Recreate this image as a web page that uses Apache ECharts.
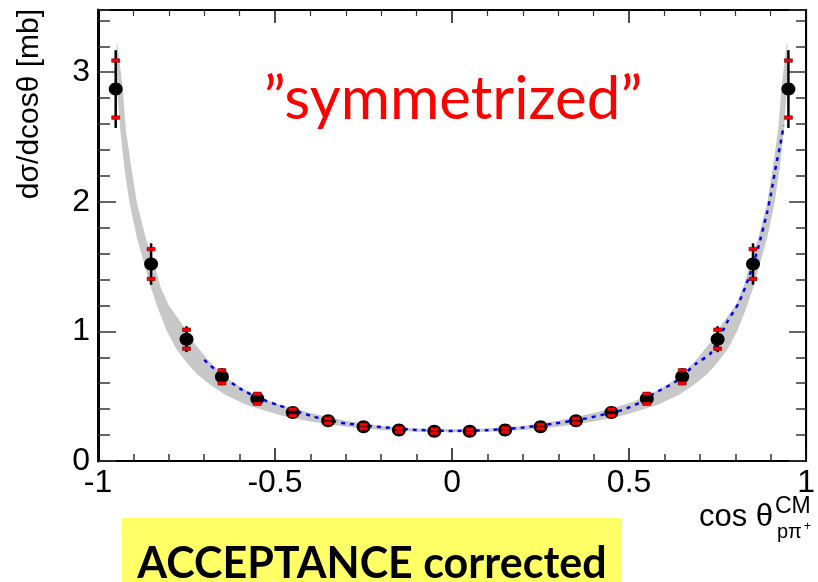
<!DOCTYPE html>
<html>
<head>
<meta charset="utf-8">
<script src="https://cdn.jsdelivr.net/npm/echarts@6/dist/echarts.min.js"></script>
<style>
html,body{margin:0;padding:0;background:#fff;}
#chart{width:818px;height:582px;}
</style>
</head>
<body>
<div id="chart"></div>
<script>
// ---- data ----
const xPoints = [-0.95, -0.85, -0.75, -0.65, -0.55, -0.45, -0.35, -0.25, -0.15, -0.05,
                  0.05,  0.15,  0.25,  0.35,  0.45,  0.55,  0.65,  0.75,  0.85,  0.95];
const yPoints = [2.87, 1.52, 0.94, 0.65, 0.48, 0.375, 0.31, 0.265, 0.24, 0.23,
                 0.23, 0.24, 0.265, 0.31, 0.375, 0.48, 0.65, 0.94, 1.52, 2.87];
const statErr = [0.30, 0.16, 0.10, 0.066, 0.045, 0.03, 0.025, 0.02, 0.02, 0.02,
                 0.02, 0.02, 0.02, 0.025, 0.03, 0.045, 0.066, 0.10, 0.16, 0.30];
const sysErr  = [0.22, 0.115, 0.073, 0.05, 0.038, 0.025, 0.018, 0.015, 0.015, 0.015,
                 0.015, 0.015, 0.015, 0.018, 0.025, 0.038, 0.05, 0.073, 0.115, 0.22];

// model band (grey), upper edge from left to right
const bandUpperX = [-0.945, -0.93, -0.921, -0.905, -0.89, -0.865, -0.841, -0.823, -0.80, -0.763, -0.74,
                    -0.689, -0.647, -0.60, -0.55, -0.50, -0.441, -0.40, -0.30, -0.20, -0.10, 0,
                     0.10, 0.20, 0.30, 0.40, 0.441, 0.50, 0.55, 0.60, 0.647, 0.689,
                     0.74, 0.763, 0.80, 0.823, 0.841, 0.865, 0.89, 0.905, 0.921, 0.93, 0.945];
const bandUpperY = [3.22, 2.87, 2.55, 2.25, 1.99, 1.72, 1.52, 1.34, 1.20, 1.06, 0.95,
                    0.78, 0.66, 0.575, 0.50, 0.445, 0.40, 0.37, 0.31, 0.27, 0.25, 0.245,
                    0.25, 0.27, 0.31, 0.37, 0.40, 0.445, 0.50, 0.575, 0.66, 0.78,
                    0.95, 1.06, 1.20, 1.34, 1.52, 1.72, 1.99, 2.25, 2.55, 2.87, 3.22];
// lower edge from left to right
const bandLowerX = [-0.947, -0.946, -0.937, -0.925, -0.911, -0.89, -0.869, -0.851, -0.83, -0.805, -0.78,
                    -0.75, -0.72, -0.684, -0.64, -0.581, -0.53, -0.48, -0.40, -0.30, -0.20, -0.10, 0,
                     0.10, 0.20, 0.30, 0.40, 0.48, 0.53, 0.581, 0.64, 0.684, 0.72, 0.75,
                     0.78, 0.805, 0.83, 0.851, 0.869, 0.89, 0.911, 0.925, 0.937, 0.946, 0.947];
const bandLowerY = [3.22, 2.87, 2.55, 2.25, 1.99, 1.72, 1.52, 1.34, 1.17, 1.00, 0.87,
                    0.76, 0.67, 0.59, 0.51, 0.435, 0.39, 0.35, 0.305, 0.264, 0.239, 0.225, 0.221,
                    0.225, 0.239, 0.264, 0.305, 0.35, 0.39, 0.435, 0.51, 0.59, 0.67, 0.76,
                    0.87, 1.00, 1.17, 1.34, 1.52, 1.72, 1.99, 2.25, 2.55, 2.87, 3.22];

// blue dotted curve
const blueX = [-0.70, -0.65, -0.60, -0.55, -0.49, -0.44, -0.39, -0.35, -0.30, -0.20, -0.10, 0,
                0.10, 0.20, 0.29, 0.34, 0.38, 0.43, 0.48, 0.53, 0.57, 0.63, 0.69, 0.73, 0.78,
                0.81, 0.84, 0.865, 0.89, 0.90, 0.906, 0.915, 0.927, 0.937];
const blueY = [0.78, 0.66, 0.56, 0.49, 0.43, 0.385, 0.342, 0.315, 0.29, 0.262, 0.24, 0.232,
               0.238, 0.258, 0.29, 0.31, 0.329, 0.36, 0.393, 0.45, 0.52, 0.61, 0.753, 0.83, 1.087,
               1.22, 1.43, 1.65, 1.92, 2.05, 2.14, 2.28, 2.44, 2.59];

const xMin = -1, xMax = 1, xStep = 0.5;
const yMin = 0, yMax = 3.48, yStep = 1, yMinorStep = 0.2;
const yTitle = 'dσ/dcosθ [mb]';
const noteText = '”symmetrized”';
const boxText = 'ACCEPTANCE corrected';

// ---- chart ----
const chart = echarts.init(document.getElementById('chart'), null, {renderer: 'canvas'});
const FONT = 'Liberation Sans, Arial, Helvetica, sans-serif';

const pointData = xPoints.map((x, i) => [x, yPoints[i], statErr[i], sysErr[i]]);
const blueData = blueX.map((x, i) => [x, blueY[i]]);

function yAxisCfg(pos, len, interval, showLabel, lineW) {
  return {
    type: 'value', position: pos, min: yMin, max: yMax, interval: interval,
    axisLine: {show: lineW > 0, onZero: false, lineStyle: {color: '#000', width: lineW}},
    axisTick: {show: true, inside: true, length: len, lineStyle: {color: '#333', width: 1.5}},
    axisLabel: {show: showLabel, fontFamily: FONT, fontSize: 32, color: '#000', margin: 8,
                showMaxLabel: false},
    splitLine: {show: false}
  };
}

const option = {
  animation: false,
  backgroundColor: '#fff',
  grid: {left: 98, right: 5, top: 10, bottom: 121, show: true, borderColor: '#000', borderWidth: 2,
         backgroundColor: 'transparent'},
  xAxis: [
    {
      type: 'value', position: 'bottom', min: xMin, max: xMax, interval: xStep,
      axisLine: {show: true, onZero: false, lineStyle: {color: '#000', width: 2}},
      axisTick: {show: true, inside: true, length: 13, lineStyle: {color: '#111', width: 1.5}},
      minorTick: {show: true, splitNumber: 5, length: 7, lineStyle: {color: '#333', width: 1.5}},
      axisLabel: {fontFamily: FONT, fontSize: 32, color: '#000', margin: 6,
                  formatter: v => String(v)},
      splitLine: {show: false}
    },
    {
      type: 'value', position: 'top', min: xMin, max: xMax, interval: xStep,
      axisLine: {show: true, onZero: false, lineStyle: {color: '#000', width: 2}},
      axisTick: {show: true, inside: true, length: 13, lineStyle: {color: '#111', width: 1.5}},
      minorTick: {show: true, splitNumber: 5, length: 6, lineStyle: {color: '#333', width: 1.2}},
      axisLabel: {show: false},
      splitLine: {show: false}
    }
  ],
  yAxis: [
    yAxisCfg('left', 18, yStep, true, 3),
    yAxisCfg('left', 12, yMinorStep, false, 0),
    yAxisCfg('right', 17, yStep, false, 2),
    yAxisCfg('right', 10, yMinorStep, false, 0)
  ],
  series: [
    {
      type: 'custom', name: 'band', xAxisIndex: 0, yAxisIndex: 0, z: 1,
      data: [[0, 0]],
      renderItem: function (params, api) {
        const pts = [];
        for (let i = 0; i < bandUpperX.length; i++) pts.push(api.coord([bandUpperX[i], bandUpperY[i]]));
        for (let i = bandLowerX.length - 1; i >= 0; i--) pts.push(api.coord([bandLowerX[i], bandLowerY[i]]));
        return {type: 'polygon', shape: {points: pts}, style: {fill: '#c8c8c8', stroke: null}};
      },
      silent: true
    },
    {
      type: 'line', name: 'fit', xAxisIndex: 0, yAxisIndex: 0, z: 2,
      data: blueData, showSymbol: false, smooth: 0.2,
      lineStyle: {color: '#0000ff', width: 2.5, type: [4, 5]}
    },
    {
      type: 'custom', name: 'data', xAxisIndex: 0, yAxisIndex: 0, z: 3,
      data: pointData,
      renderItem: function (params, api) {
        const x = api.value(0), y = api.value(1), st = api.value(2), sy = api.value(3);
        const c = api.coord([x, y]);
        const top = api.coord([x, y + st]);
        const bot = api.coord([x, y - st]);
        const st1 = api.coord([x, y + sy]);
        const st2 = api.coord([x, y - sy]);
        const capW = 8, capH = 3.5;
        return {
          type: 'group',
          children: [
            {type: 'line', shape: {x1: c[0], y1: top[1], x2: c[0], y2: bot[1]},
             style: {stroke: '#000', lineWidth: 2.5}},
            {type: 'ellipse', shape: {cx: c[0], cy: c[1], rx: 7, ry: 6.5}, style: {fill: '#000'}},
            {type: 'rect', shape: {x: c[0] - capW / 2, y: st1[1] - capH / 2, width: capW, height: capH},
             style: {fill: '#ff0000', stroke: '#600', lineWidth: 0.6}},
            {type: 'rect', shape: {x: c[0] - capW / 2, y: st2[1] - capH / 2, width: capW, height: capH},
             style: {fill: '#ff0000', stroke: '#600', lineWidth: 0.6}}
          ]
        };
      }
    }
  ],
  graphic: [
    {type: 'text', x: 30, y: 104, rotation: Math.PI / 2,
     style: {text: yTitle, font: '30px ' + FONT, fill: '#000', textAlign: 'center', textVerticalAlign: 'middle'}},
    {type: 'text', x: 453, y: 100,
     style: {text: noteText, font: '60px Lato, "Open Sans", sans-serif', fill: '#ff0000', textAlign: 'center', textVerticalAlign: 'middle'}},
    {type: 'text', x: 699, y: 517,
     style: {text: 'cos θ', font: '31px ' + FONT, fill: '#000', textAlign: 'left', textVerticalAlign: 'middle'}},
    {type: 'text', x: 775, y: 507,
     style: {text: 'CM', font: '23px ' + FONT, fill: '#000', textAlign: 'left', textVerticalAlign: 'middle'}},
    {type: 'text', x: 777, y: 532,
     style: {text: 'pπ', font: '20px ' + FONT, fill: '#000', textAlign: 'left', textVerticalAlign: 'middle'}},
    {type: 'text', x: 804, y: 527,
     style: {text: '+', font: '12px ' + FONT, fill: '#000', textAlign: 'left', textVerticalAlign: 'middle'}},
    {type: 'group', children: [
      {type: 'rect', shape: {x: 122, y: 518, width: 500, height: 70}, style: {fill: '#ffff66'}},
      {type: 'text', x: 372, y: 564,
       style: {text: boxText, font: 'bold 43px Lato, "Open Sans", sans-serif', fill: '#000', textAlign: 'center', textVerticalAlign: 'middle'}}
    ]}
  ]
};
chart.setOption(option);
</script>
</body>
</html>
